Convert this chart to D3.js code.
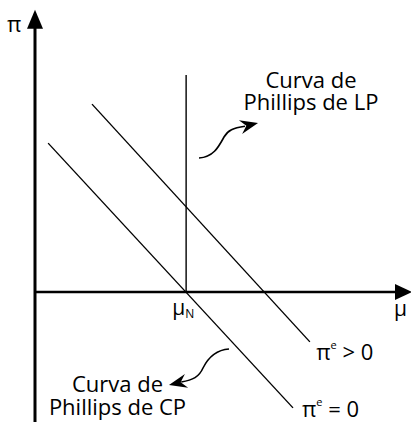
<!DOCTYPE html>
<html><head><meta charset="utf-8">
<script src="https://cdn.jsdelivr.net/npm/d3@7"></script>
<style>html,body{margin:0;padding:0;background:#fff;}svg{display:block;}</style>
</head><body>
<script>
// ---- data (abstract units) ----
const muN = 4.03;                 // natural unemployment
const lpY = [0, 5.79];            // long-run Phillips curve (vertical at muN)
const cpZeroX = [0.35, 6.88];     // short-run curve, pi^e = 0
const cpZeroY = [3.97, -3.09];
const cpPosX = [1.52, 7.33];      // short-run curve, pi^e > 0
const cpPosY = [5.01, -1.33];
const labelLP = ["Curva de", "Phillips de LP"];
const labelCP = ["Curva de", "Phillips de CP"];
const curveLabels = ["π", "e", " > 0", " = 0"];

const W = 411, H = 422;
const x = d3.scaleLinear().domain([0, 10]).range([35, 410]);
const y = d3.scaleLinear().domain([-3.5, 7.5]).range([423.25, 10.75]);
const font = "'Open Sans', sans-serif";

const svg = d3.select("body").append("svg").attr("width", W).attr("height", H)
  .style("font-family", font);

// axes
svg.append("line").attr("x1", x(0)).attr("x2", x(0)).attr("y1", H).attr("y2", y(7.5) + 14)
  .attr("stroke", "#000").attr("stroke-width", 3);
svg.append("path").attr("d", `M${x(0)},${y(7.5) - 1}L${x(0) - 8},${y(7.5) + 18}L${x(0) + 8},${y(7.5) + 18}Z`).attr("fill", "#000");
svg.append("line").attr("x1", x(0)).attr("x2", x(10) - 12).attr("y1", y(0)).attr("y2", y(0))
  .attr("stroke", "#000").attr("stroke-width", 2.6);
svg.append("path").attr("d", `M${x(10) + 2},${y(0)}L${x(10) - 15},${y(0) - 8}L${x(10) - 15},${y(0) + 8}Z`).attr("fill", "#000");

const line = d3.line().x(d => x(d[0])).y(d => y(d[1]));
const lineStyle = s => s.attr("fill", "none").attr("stroke", "#000").attr("stroke-width", 1.4);
svg.append("path").datum(lpY.map(v => [muN, v])).attr("d", line).call(lineStyle);
svg.append("path").datum(cpZeroX.map((v, i) => [v, cpZeroY[i]])).attr("d", line).call(lineStyle);
svg.append("path").datum(cpPosX.map((v, i) => [v, cpPosY[i]])).attr("d", line).call(lineStyle);

// axis labels
svg.append("text").attr("x", 7).attr("y", 32).attr("font-size", 22).text("π");
svg.append("text").attr("x", 394).attr("y", 316).attr("font-size", 21).text("μ");
const mN = svg.append("text").attr("x", x(3.66)).attr("y", 315).attr("font-size", 21);
mN.append("tspan").text("μ");
mN.append("tspan").attr("font-size", 12).attr("dy", 3).text("N");

// curve labels
function piLabel(u, v, rest) {
  const t = svg.append("text").attr("x", x(u)).attr("y", y(v)).attr("font-size", 22);
  t.append("tspan").text(curveLabels[0]);
  t.append("tspan").attr("font-size", 11).attr("dy", -11).text(curveLabels[1]);
  t.append("tspan").attr("dy", 11).text(rest);
}
piLabel(7.5, -1.81, curveLabels[2]);
piLabel(7.12, -3.33, curveLabels[3]);

// annotation text
function block(lines, u, v1, v2) {
  [v1, v2].forEach((v, i) => svg.append("text").attr("x", x(u)).attr("y", y(v))
    .attr("text-anchor", "middle").attr("font-size", 22).text(lines[i]));
}
block(labelLP, 7.36, 5.44, 4.85);
block(labelCP, 2.2, -2.67, -3.28);

// curved arrows
const P = (u, v) => `${x(u)},${y(v)}`;
function arrowHead(tu, tv, fu, fv) {
  const tx = x(tu), ty = y(tv);
  const a = Math.atan2(ty - y(fv), tx - x(fu));
  const L = 18, w = 7, n = 12;
  const cos = Math.cos(a), sin = Math.sin(a);
  const pt = (l, s) => `${tx - l * cos - s * sin},${ty - l * sin + s * cos}`;
  svg.append("path").attr("d", `M${tx},${ty}L${pt(L, w)}L${pt(n, 0)}L${pt(L, -w)}Z`).attr("fill", "#000");
}
svg.append("path").attr("d",
  `M${P(4.373, 3.573)}C${P(4.773, 3.6)} ${P(4.907, 3.893)} ${P(5.04, 4.133)}C${P(5.147, 4.32)} ${P(5.28, 4.373)} ${P(5.6, 4.42)}`)
  .attr("fill", "none").attr("stroke", "#000").attr("stroke-width", 1.6);
arrowHead(5.947, 4.507, 5.493, 4.4);
svg.append("path").attr("d",
  `M${P(5.173, -1.52)}C${P(4.8, -1.547)} ${P(4.613, -1.76)} ${P(4.48, -2.027)}C${P(4.373, -2.267)} ${P(4.213, -2.347)} ${P(3.9, -2.4)}`)
  .attr("fill", "none").attr("stroke", "#000").attr("stroke-width", 1.6);
arrowHead(3.573, -2.48, 4.027, -2.373);
</script>
</body></html>
